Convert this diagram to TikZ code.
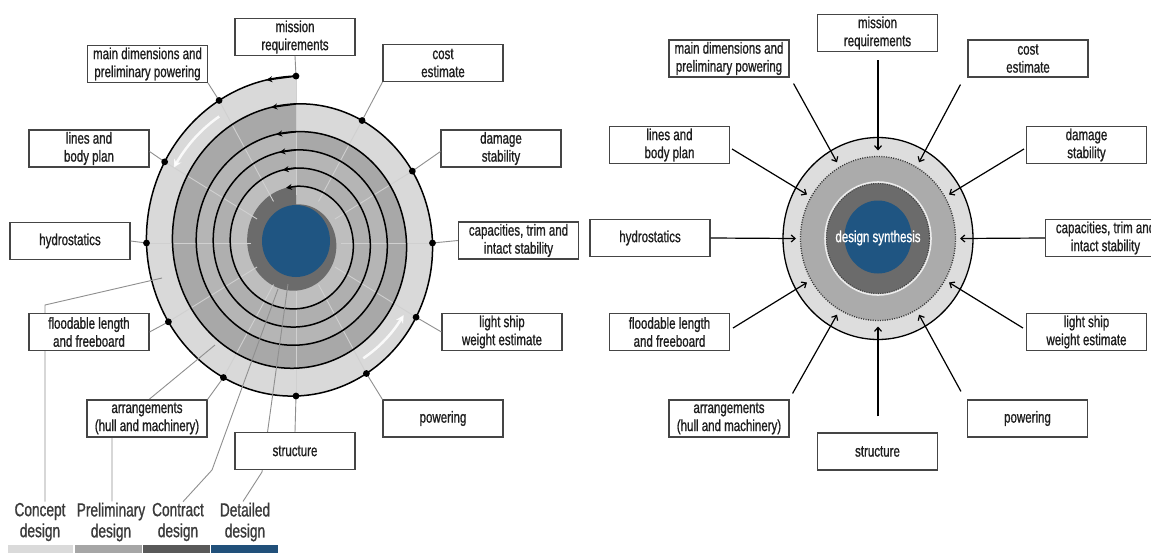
\documentclass[tikz,border=0pt]{standalone}
\usepackage{fontspec}
\setmainfont{Liberation Sans}[FakeStretch=0.72,FakeBold=0.9]
\usetikzlibrary{arrows.meta,calc}
\definecolor{boxline}{HTML}{454545}
\definecolor{txt}{HTML}{1E1E1E}
\definecolor{legc}{HTML}{3A3A3A}
\definecolor{leadc}{HTML}{8F8F8F}
\definecolor{spokec}{HTML}{D0D0D0}
\definecolor{turnA}{HTML}{D9D9D9}
\definecolor{turnB}{HTML}{A8A8A8}
\definecolor{turnC}{HTML}{B5B5B5}
\definecolor{turnD}{HTML}{AFAFAF}
\definecolor{turnE}{HTML}{BEBEBE}
\definecolor{darkc}{HTML}{6B6B6B}
\definecolor{blueC}{HTML}{1F5582}
\definecolor{lightc}{HTML}{DDDDDD}
\definecolor{midc}{HTML}{ABABAB}
\definecolor{legA}{HTML}{DADADA}
\definecolor{legB}{HTML}{A6A6A6}
\definecolor{legC}{HTML}{595959}
\definecolor{legD}{HTML}{21507A}
\newcommand{\spr}[1]{(156-min(#1,720)/360*26-max(#1-720,0)/360*17)}
\newcommand{\spx}[1]{296-\spr{#1}*sin(#1)}
\newcommand{\spy}[1]{243-1.07*\spr{#1}*cos(#1)}
\begin{document}
\begin{tikzpicture}[x=1pt,y=-1pt,
  font=\fontsize{16}{18}\selectfont,
  lbox/.style={draw=boxline, line width=1.1pt, fill=white, minimum width=120, minimum height=37, align=center, inner sep=1pt, text=txt},
  leader/.style={draw=leadc, line width=0.9pt},
  spoke/.style={draw=spokec, line width=0.9pt},
  spiral/.style={draw=black, line width=1.5pt},
  arr/.style={draw=black, line width=1.2pt, -{Straight Barb[length=4pt,width=7pt]}},
  legtext/.style={align=center, text=legc, inner sep=1pt, font=\fontsize{19}{21}\selectfont}]
\useasboundingbox (0,0) rectangle (1151,552);
\clip (0,0) rectangle (1151,552);
\fill[white] (0,0) rectangle (1151,552);

% ---------- left spiral ----------
\foreach \k/\col in {0/turnA,1/turnB,2/turnC,3/turnD,4/turnE}{
  \pgfmathsetmacro\tA{360*\k}
  \pgfmathsetmacro\tB{360*\k+360}
  \fill[\col] plot[domain=\tA:\tB, samples=289, variable=\t] ({\spx{\t}},{\spy{\t}}) -- cycle;
}
\fill[darkc] plot[domain=1800:2160, samples=145, variable=\t] ({\spx{\t}},{\spy{\t}}) -- cycle;
\fill[blueC] (296,241) ellipse[x radius=34, y radius=36];

\foreach \i in {0,...,11}{
  \pgfmathsetmacro\tA{30*\i}
  \coordinate (d\i) at ({\spx{\tA}},{\spy{\tA}});
}
\foreach \i in {0,...,11}{
  \pgfmathsetmacro\tA{30*\i}
  \draw[spoke] ({296-45*sin(\tA)},{243-48*cos(\tA)}) -- (d\i);
}
% white direction arrows
\draw[white, line width=2.5pt, opacity=0.85, -{Stealth[length=8pt,width=8pt]}]
  plot[domain=33:60, samples=20, variable=\t] ({296-141*sin(\t)},{243-1.07*141*cos(\t)});
\draw[white, line width=2.5pt, opacity=0.85, -{Stealth[length=8pt,width=8pt]}]
  plot[domain=212:238, samples=20, variable=\t] ({296-127*sin(\t)},{243-1.07*127*cos(\t)});

\draw[spiral] plot[domain=0:1800, samples=1441, variable=\t] ({\spx{\t}},{\spy{\t}});
\foreach \k in {0,...,5}{
  \pgfmathsetmacro\tA{360*\k}
  \pgfmathsetmacro\tB{360*\k+11}
  \draw[spiral, -{Stealth[length=6pt,width=6pt]}] ({\spx{\tA}},{\spy{\tA}}) -- ({\spx{\tB}},{\spy{\tB}});
}

% ---------- legend ----------
\node[legtext] (lcon) at (40,522) {Concept\\design};
\node[legtext] (lpre) at (111,522) {Preliminary\\design};
\node[legtext] (lctr) at (178,522) {Contract\\design};
\node[legtext] (ldet) at (245,522) {Detailed\\design};
\coordinate (conEnd) at (162,278);
\coordinate (preEnd) at (215,345);
\coordinate (ctrEnd) at (278,289);
\coordinate (detEnd) at (288,284);
\draw[leader] ([xshift=5pt]lcon.north) -- (45,305) -- (conEnd);
\draw[leader] ([xshift=1pt]lpre.north) -- (112,430) -- (preEnd);
\draw[leader] ([xshift=5pt]lctr.north) -- (212,470) -- (ctrEnd);
\draw[leader] ([xshift=-2pt]ldet.north) -- (262,472) -- (detEnd);
\fill[legA] (8,545) rectangle (73,553);
\fill[legB] (75,545) rectangle (142,553);
\fill[legC] (143,545) rectangle (210,553);
\fill[legD] (211,545) rectangle (278,553);

% ---------- left boxes ----------
\node[lbox] (mission) at (295,37) {mission\\requirements};
\node[lbox] (main) at (147.5,64) {main dimensions and\\preliminary powering};
\node[lbox] (cost) at (443,63) {cost\\estimate};
\node[lbox] (lines) at (89,148.5) {lines and\\body plan};
\node[lbox] (damage) at (501,148.5) {damage\\stability};
\node[lbox] (hydro) at (70,241) {hydrostatics};
\node[lbox] (cap) at (518.5,240.5) {capacities, trim and\\intact stability};
\node[lbox] (flood) at (89,332) {floodable length\\and freeboard};
\node[lbox] (light) at (502,332) {light ship\\weight estimate};
\node[lbox] (arr) at (147,418.5) {arrangements\\(hull and machinery)};
\node[lbox] (pow) at (443,418.5) {powering};
\node[lbox] (struct) at (295,451) {structure};

\draw[leader] (d0) -- (mission.south);
\draw[leader] (d1) -- (main.south east);
\draw[leader] (d2) -- ($(lines.east)+(0,3)$);
\draw[leader] (d3) -- (hydro.east);
\draw[leader] (d4) -- (flood.east);
\draw[leader] (d5) -- (arr.north east);
\draw[leader] (d6) -- (struct.north);
\draw[leader] (d7) -- (pow.north west);
\draw[leader] (d8) -- (light.west);
\draw[leader] (d9) -- (cap.west);
\draw[leader] (d10) -- ($(damage.west)+(0,3)$);
\draw[leader] (d11) -- (cost.south west);
\foreach \i in {0,...,11}{ \fill[black] (d\i) circle[radius=3.4pt]; }

% ---------- right diagram ----------
\fill[lightc] (878,238.5) ellipse[x radius=95, y radius=101];
\draw[black, line width=1.3pt] (878,238.5) ellipse[x radius=95, y radius=101];
\fill[midc] (878,238.5) ellipse[x radius=77.5, y radius=82];
\draw[black!80, line width=1.3pt, dash pattern=on 1pt off 1.4pt] (878,238.5) ellipse[x radius=77.5, y radius=82];
\draw[white!85!gray, line width=1.6pt] (878,238.5) ellipse[x radius=53, y radius=56.5];
\fill[darkc] (878,238.5) ellipse[x radius=51.5, y radius=55];
\draw[black!75, line width=1.1pt, dash pattern=on 1pt off 1.3pt] (878,238.5) ellipse[x radius=51.5, y radius=55];
\fill[blueC] (878,237) ellipse[x radius=33.5, y radius=36.5];
\node[text=white, inner sep=0] (syn) at (878,238) {design synthesis};

\node[lbox] (Rmission) at (877.5,33) {mission\\requirements};
\node[lbox] (Rmain) at (729,58.5) {main dimensions and\\preliminary powering};
\node[lbox] (Rcost) at (1028,58.5) {cost\\estimate};
\node[lbox] (Rlines) at (669.5,145) {lines and\\body plan};
\node[lbox] (Rdamage) at (1086.5,145) {damage\\stability};
\node[lbox] (Rhydro) at (650,238) {hydrostatics};
\node[lbox] (Rcap) at (1105.5,238) {capacities, trim and\\intact stability};
\node[lbox] (Rflood) at (669.5,332) {floodable length\\and freeboard};
\node[lbox] (Rlight) at (1086.5,332) {light ship\\weight estimate};
\node[lbox] (Rarr) at (729,418.5) {arrangements\\(hull and machinery)};
\node[lbox] (Rpow) at (1027.5,418.5) {powering};
\node[lbox] (Rstruct) at (877.5,451.5) {structure};

\foreach \i in {0,...,11}{
  \pgfmathsetmacro\tA{30*\i}
  \coordinate (e\i) at ({878-82*sin(\tA)},{238.5-88*cos(\tA)});
}
\draw[arr] ($(Rmission.south)+(0.5,8)$) -- (e0);
\draw[arr] ($(Rmain.south east)+(4,6)$) -- (e1);
\draw[arr] ($(Rlines.east)+(2,4)$) -- (e2);
\draw[arr] (Rhydro.east) -- (e3);
\draw[arr] ($(Rflood.east)+(3,-4)$) -- (e4);
\draw[arr] ($(Rarr.north east)+(3,-6)$) -- (e5);
\draw[arr] ($(Rstruct.north)+(0.5,-16)$) -- (e6);
\draw[arr] ($(Rpow.north west)+(-6,-8)$) -- (e7);
\draw[arr] ($(Rlight.west)+(-3,-4)$) -- (e8);
\draw[arr] (Rcap.west) -- (e9);
\draw[arr] ($(Rdamage.west)+(-2,4)$) -- (e10);
\draw[arr] ($(Rcost.south west)+(-7,7)$) -- (e11);
\end{tikzpicture}
\end{document}
